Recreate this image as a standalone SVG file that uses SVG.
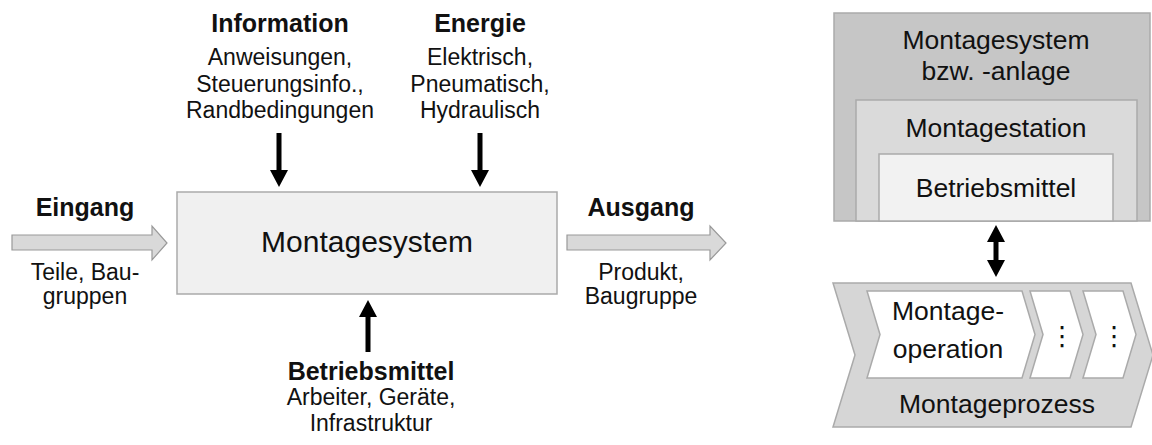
<svg xmlns="http://www.w3.org/2000/svg" width="1152" height="445" viewBox="0 0 1152 445">
<style>
text{font-family:"Liberation Sans",Arial,Helvetica,sans-serif;fill:#111;text-anchor:middle}
.b{font-weight:bold;font-size:25px}
.r{font-size:23px}
.rr{font-size:26.5px}
.big{font-size:30px}
.blk{fill:#000;stroke:none}
.gar{fill:#d9d9d9;stroke:#999;stroke-width:1.2}
.box{stroke:#aaa;stroke-width:1.5}
</style>
<rect width="1152" height="445" fill="#fff"/>
<g id="system">
<rect class="box" x="177" y="192" width="380" height="102" fill="#f0f0f0"/>
<text class="big" x="367" y="252">Montagesystem</text>
</g>
<g id="information">
<text class="b" x="280" y="32">Information</text>
<text class="r" x="280" y="65">Anweisungen,</text>
<text class="r" x="280" y="92">Steuerungsinfo.,</text>
<text class="r" x="280" y="118">Randbedingungen</text>
</g>
<g id="energie">
<text class="b" x="480" y="32">Energie</text>
<text class="r" x="480" y="65">Elektrisch,</text>
<text class="r" x="480" y="92">Pneumatisch,</text>
<text class="r" x="480" y="118">Hydraulisch</text>
</g>
<g id="betriebsmittel-in">
<text class="b" x="371" y="380">Betriebsmittel</text>
<text class="r" x="371" y="405">Arbeiter, Geräte,</text>
<text class="r" x="371" y="431">Infrastruktur</text>
</g>
<g id="eingang">
<text class="b" x="85" y="216">Eingang</text>
<text class="r" x="85" y="280">Teile, Bau-</text>
<text class="r" x="85" y="304">gruppen</text>
</g>
<g id="ausgang">
<text class="b" x="641" y="216">Ausgang</text>
<text class="r" x="641" y="280">Produkt,</text>
<text class="r" x="641" y="304">Baugruppe</text>
</g>
<g id="hierarchie">
<rect class="box" x="834" y="13" width="316" height="208" fill="#c6c6c6"/>
<rect class="box" x="856" y="100" width="281" height="121" fill="#dadada"/>
<rect class="box" x="879" y="154" width="234" height="67" fill="#f2f2f2"/>
<text class="rr" x="996" y="49">Montagesystem</text>
<text class="rr" x="996" y="80">bzw. -anlage</text>
<text class="rr" x="996" y="137">Montagestation</text>
<text class="rr" x="996" y="197">Betriebsmittel</text>
</g>
<g id="prozess">
<polygon class="box" points="833,283 1131,283 1153,355 1131,427 833,427 855,355" fill="#d6d6d6"/>
<polygon class="box" points="867,291 1022,291 1035,334.5 1022,378 867,378 880,334.5" fill="#fff"/>
<polygon class="box" points="1030,291 1070,291 1083,334.5 1070,378 1030,378 1043,334.5" fill="#fff"/>
<polygon class="box" points="1083,291 1123,291 1136,334.5 1123,378 1083,378 1096,334.5" fill="#fff"/>
<text class="rr" x="948" y="320">Montage-</text>
<text class="rr" x="948" y="358">operation</text>
<text class="rr" x="1062" y="345" style="font-family:'DejaVu Sans',sans-serif">⋮</text>
<text class="rr" x="1114" y="345" style="font-family:'DejaVu Sans',sans-serif">⋮</text>
<text class="rr" x="997" y="413">Montageprozess</text>
</g>
<g id="connectors">
<polygon class="blk" points="276.5,133 281.5,133 281.5,170 288,170 279,187 270,170 276.5,170"/>
<polygon class="blk" points="477.5,133 482.5,133 482.5,170 489,170 480,187 471,170 477.5,170"/>
<polygon class="blk" points="365.5,352 370.5,352 370.5,317 377,317 368,300 359,317 365.5,317"/>
<polygon class="blk" points="987,242 996,225 1005,242 998.5,242 998.5,260 1005,260 996,277 987,260 993.5,260 993.5,242"/>
<polygon class="gar" points="12,235 152,235 152,226 167,243 152,260 152,250 12,250"/>
<polygon class="gar" points="567,235 710,235 710,226 726,243 710,260 710,250 567,250"/>
</g>
</svg>
